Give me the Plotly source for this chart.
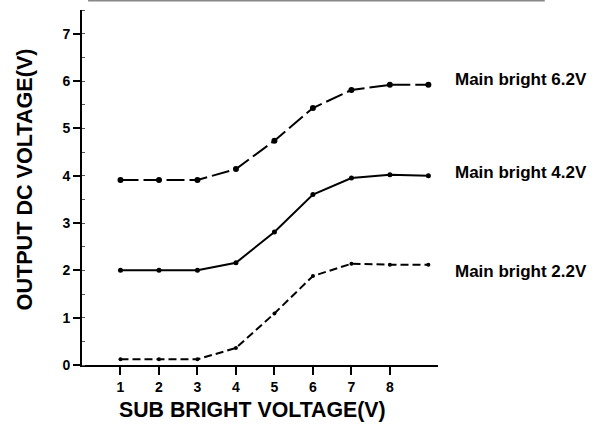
import plotly.graph_objects as go

sub_bright = [1, 2, 3, 4, 5, 6, 7, 8, 9]
main_62 = [3.91, 3.91, 3.91, 4.14, 4.74, 5.43, 5.81, 5.92, 5.92]
main_42 = [2.0, 2.0, 2.0, 2.16, 2.81, 3.6, 3.95, 4.02, 4.0]
main_22 = [0.12, 0.12, 0.12, 0.36, 1.09, 1.88, 2.14, 2.12, 2.12]
series_labels = ["Main bright 6.2V", "Main bright 4.2V", "Main bright 2.2V"]
label_y = [6.03, 4.06, 1.97]
x_ticks = [1, 2, 3, 4, 5, 6, 7, 8]
y_ticks = [0, 1, 2, 3, 4, 5, 6, 7]

FONT = "Liberation Sans, Arial, sans-serif"

fig = go.Figure()
styles = [
    (main_62, "18px,5px", 6),
    (main_42, "solid", 5),
    (main_22, "8px,4px", 4),
]
for ys, dash, ms in styles:
    fig.add_trace(go.Scatter(
        x=sub_bright, y=ys, mode="lines+markers",
        line=dict(color="black", width=2, dash=dash),
        marker=dict(color="black", size=ms),
        showlegend=False, cliponaxis=False,
    ))

for txt, y in zip(series_labels, label_y):
    fig.add_annotation(x=1.042, y=y, xref="paper", yref="y", text=txt,
                       showarrow=False, xanchor="left", yanchor="middle",
                       font=dict(family=FONT, size=17, color="black", weight="bold"))

fig.add_annotation(x=0.478, y=-0.127, xref="paper", yref="paper",
                   text="SUB BRIGHT VOLTAGE(V)", showarrow=False,
                   xanchor="center", yanchor="middle",
                   font=dict(family=FONT, size=21.3, color="black", weight="bold"))
fig.add_annotation(x=-0.159, y=0.524, xref="paper", yref="paper",
                   text="OUTPUT DC VOLTAGE(V)", showarrow=False, textangle=-90,
                   xanchor="center", yanchor="middle",
                   font=dict(family=FONT, size=21.6, color="black", weight="bold"))

fig.add_shape(type="line", xref="paper", yref="paper", x0=0.017, x1=1.30,
              y0=1.027, y1=1.027, line=dict(color="#888888", width=2))

fig.update_layout(
    width=596, height=425,
    margin=dict(l=82, r=158, t=10, b=60),
    paper_bgcolor="white", plot_bgcolor="white",
    font=dict(family=FONT, color="black"),
    xaxis=dict(range=[0, 9.25], tickvals=x_ticks, ticks="outside", ticklen=8,
               tickwidth=2, tickcolor="black", showline=True, linecolor="black",
               linewidth=2, showgrid=False, zeroline=False,
               tickfont=dict(family=FONT, size=14, color="black", weight="bold")),
    yaxis=dict(range=[0, 7.5], tickvals=y_ticks, ticks="outside", ticklen=7,
               tickwidth=2, tickcolor="black", showline=True, linecolor="black",
               linewidth=2, showgrid=False, zeroline=False,
               minor=dict(ticks="inside", dtick=0.5, ticklen=3, tickwidth=1,
                          tickcolor="#555555", showgrid=False),
               tickfont=dict(family=FONT, size=14, color="black", weight="bold")),
)

fig.write_html("out.html", config={"displayModeBar": False},
               post_script="document.body.style.margin='0';document.body.style.padding='0';")
